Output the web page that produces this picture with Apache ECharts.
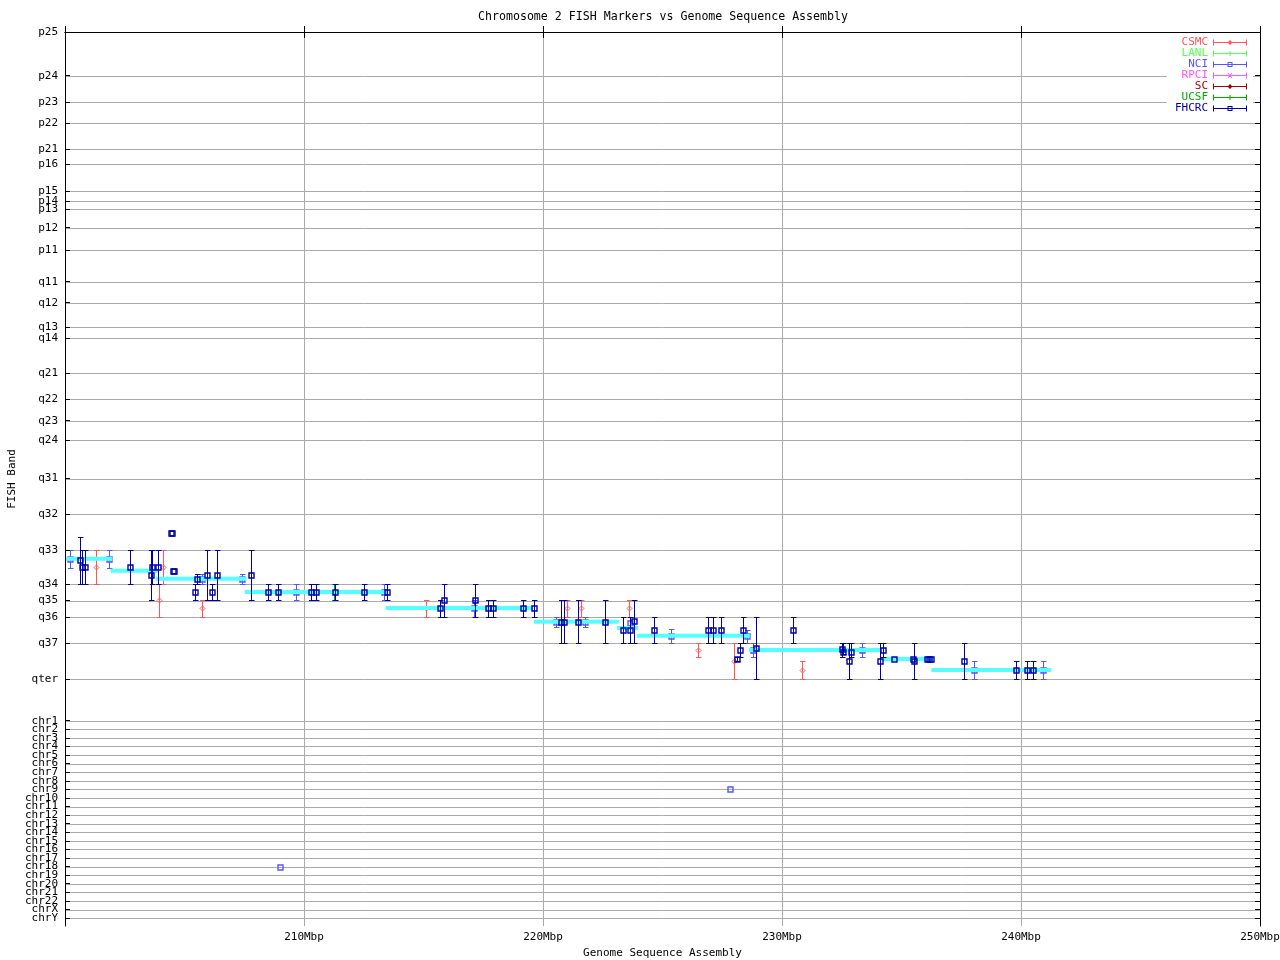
<!DOCTYPE html>
<html><head><meta charset="utf-8">
<script src="https://cdn.jsdelivr.net/npm/echarts@6/dist/echarts.min.js"></script>
<style>html,body{margin:0;padding:0;background:#fff}#c{width:1280px;height:960px}</style>
</head><body><div id="c"></div>
<script>
// FISH band axis: label and its position on the band scale (0 = p25 at top)
const bandLabels = ['p25','p24','p23','p22','p21','p16','p15','p14','p13','p12','p11',
  'q11','q12','q13','q14','q21','q22','q23','q24','q31','q32','q33','q34','q35','q36','q37','qter',
  'chr1','chr2','chr3','chr4','chr5','chr6','chr7','chr8','chr9','chr10','chr11','chr12','chr13',
  'chr14','chr15','chr16','chr17','chr18','chr19','chr20','chr21','chr22','chrX','chrY'];
const bandPos = [0,43.7,70.3,91.3,117,132.3,159,169,177,195.7,218,
  249.7,270.7,295.3,306.3,341.3,367.3,388.7,408,446.5,482,518,552.3,568.5,585.3,611.3,647.3,
  688.7,697.3,705.9,714.4,723.0,731.6,740.2,748.8,757.3,765.9,774.5,783.1,791.7,
  800.2,808.8,817.4,826.0,834.6,843.1,851.7,860.3,868.9,877.5,886.0];
const bandMax = 894;
const xMin = 200, xMax = 250, xStep = 10;
const xGrid = [210, 220, 230, 240];

// [Mbp, band position, band low, band high]
const csmc = [
  [201.31,535.3,518,552.3],[203.93,568.3,552.3,585.3],[204.10,535.3,518,552.3],
  [205.73,576,568.3,585.3],[215.12,576,568.3,585.3],[221.02,576,568.3,585.3],
  [221.59,576,568.3,585.3],[223.60,576,568.3,585.3],[226.49,618.3,611.3,624.7],
  [227.98,629.3,611.3,647.3],[230.84,638.3,629.3,647.3]
];
const lanl = [];
const nci = [
  [200.20,526.7,518,535.7],[201.84,526.7,518,535.7],[205.72,547,542.3,552.3],
  [207.42,547,542.3,552.3],[209.67,560.3,552.3,568.3],[213.33,560.3,552.3,568.3],
  [217.11,576,568.3,585.3],[220.54,590,585.3,595],[221.76,590,585.3,595],
  [223.64,591.3,585.3,595],[225.36,603.7,597.3,611.3],[228.54,603.7,598.3,611.3],
  [228.79,618,611.3,624.7],[233.35,618,611.3,624.7],[238.03,638.3,629.3,647.3],
  [240.92,638.3,629.3,647.3],
  [208.98,834.6,834.6,834.6],[227.81,757.3,757.3,757.3]
];
const rpci = [];
const sc = [];
const ucsf = [[211.24,560.3,552.3,568.3]];
const fhcrc = [
  [200.64,528,504.7,552.3],[200.73,535.3,518,552.3],[200.85,535.3,518,552.3],
  [202.72,535.3,518,552.3],[203.60,543.3,518,568.3],[203.66,535.3,518,552.3],
  [203.91,535.3,518,552.3],[204.42,501.3,501.3,501.3],[204.48,501.3,501.3,501.3],
  [204.52,539.3,539.3,539.3],[204.56,539.3,539.3,539.3],
  [205.44,560.3,552.3,568.3],[205.52,547,542.3,552.3],[205.94,543.3,518,568.3],
  [206.15,560.3,552.3,568.3],[206.36,543.3,518,568.3],[207.78,543.3,518,568.3],
  [208.49,560.3,552.3,568.3],[208.91,560.3,552.3,568.3],[210.29,560.3,552.3,568.3],
  [210.50,560.3,552.3,568.3],[211.30,560.3,552.3,568.3],[212.50,560.3,552.3,568.3],
  [213.47,560.3,552.3,568.3],[215.69,576,568.3,585.3],[215.86,568.3,552.3,585.3],
  [217.14,568.3,552.3,585.3],[217.69,576,568.3,585.3],[217.91,576,568.3,585.3],
  [219.16,576,568.3,585.3],[219.62,576,568.3,585.3],[220.77,589.7,568.3,611.3],
  [220.88,589.7,568.3,611.3],[221.46,589.7,568.3,611.3],[222.59,589.7,568.3,611.3],
  [223.35,598.3,585.3,611.3],[223.66,598.3,585.3,611.3],[223.81,589.3,568.3,611.3],
  [224.64,598.3,585.3,611.3],[226.90,598.3,585.3,611.3],[227.11,598.3,585.3,611.3],
  [227.46,598.3,585.3,611.3],[228.12,627,624.7,629.3],[228.23,618.3,611.3,624.7],
  [228.37,598.3,585.3,611.3],[228.91,616.3,585.3,647.3],[230.46,598.3,585.3,611.3],
  [232.49,617.3,611.3,624.7],[232.55,620,611.3,622],[232.80,629.3,611.3,647.3],
  [232.90,620.3,611.3,624.7],[234.10,629.3,611.3,647.3],[234.23,618.3,611.3,624.7],
  [234.69,627,627,627],[235.48,627,627,627],[235.52,629.3,611.3,647.3],
  [236.08,627,627,627],[236.15,627,627,627],[236.23,627,627,627],
  [237.62,629.3,611.3,647.3],[239.78,638.3,629.3,647.3],[240.24,638.3,629.3,647.3],
  [240.49,638.3,629.3,647.3]
];
// sequence assembly band segments: [start Mbp, end Mbp, band position]
const assembly = [
  [200.0,201.98,526.7],[201.91,203.89,538.7],[203.80,207.59,546.7],[207.52,213.45,560],
  [213.42,219.58,576],[219.62,223.17,589.7],[223.10,223.97,596],[223.93,228.65,603.7],
  [228.62,234.16,618],[234.16,236.32,627],[236.25,241.27,638]
];

const FONT = 'DejaVu Sans Mono';
const colors = {CSMC:'#ff5555', LANL:'#55ff55', NCI:'#5555ff', RPCI:'#ff55ff', SC:'#aa0000', UCSF:'#00aa00', FHCRC:'#0000aa'};
const bar = 'M0 2.5H34V3.5H0Z M0 0H1V6H0Z M33 0H34V6H33Z ';
const icons = {
  CSMC: 'path://' + bar + 'M17 0.5L19.5 3L17 5.5L14.5 3Z',
  LANL: 'path://' + bar + 'M16.5 0.5H17.5V5.5H16.5Z',
  NCI: 'path://' + bar + 'M14.5 0.5H19.5V5.5H14.5Z M15.5 1.5V4.5H18.5V1.5Z',
  RPCI: 'path://' + bar + 'M14.5 0.5L15.5 0.5L19.5 5.5L18.5 5.5Z M18.5 0.5L19.5 0.5L15.5 5.5L14.5 5.5Z',
  SC: 'path://' + bar + 'M17 0.5L19.5 3L17 5.5L14.5 3Z',
  UCSF: 'path://' + bar + 'M16.5 0.5H17.5V5.5H16.5Z',
  FHCRC: 'path://' + bar + 'M14.5 0.5H19.5V5.5H14.5Z M15.5 1.5V4.5H18.5V1.5Z'
};

function errRender(marker) {
  return function (params, api) {
    const x = api.value(0), y = api.value(1), lo = api.value(2), hi = api.value(3);
    const c = api.coord([x, y]);
    const cx = Math.round(c[0]) + 0.5, cy = Math.round(c[1]) + 0.5;
    const yl = Math.round(api.coord([x, lo])[1]) + 0.5;
    const yh = Math.round(api.coord([x, hi])[1]) + 0.5;
    const color = api.visual('color');
    const st = {stroke: color, lineWidth: 1, fill: 'none'};
    const ch = [];
    if (Math.abs(yh - yl) >= 1) {
      ch.push({type:'line', shape:{x1:cx, y1:yl, x2:cx, y2:yh}, style:st});
      ch.push({type:'line', shape:{x1:cx-2.5, y1:yl, x2:cx+3, y2:yl}, style:st});
      ch.push({type:'line', shape:{x1:cx-2.5, y1:yh, x2:cx+3, y2:yh}, style:st});
    }
    if (marker === 'square') {
      ch.push({type:'rect', shape:{x:cx-2.5, y:cy-2.5, width:5, height:5}, style:{stroke: color, lineWidth: 1.4, fill: 'none'}});
    } else if (marker === 'diamond') {
      ch.push({type:'polygon', shape:{points:[[cx,cy-2.5],[cx+2.5,cy],[cx,cy+2.5],[cx-2.5,cy]]}, style:st});
    } else if (marker === 'plus') {
      ch.push({type:'line', shape:{x1:cx-2.5, y1:cy, x2:cx+3, y2:cy}, style:st});
      ch.push({type:'line', shape:{x1:cx, y1:cy-2.5, x2:cx, y2:cy+3}, style:st});
    } else if (marker === 'cross') {
      ch.push({type:'line', shape:{x1:cx-2, y1:cy-2, x2:cx+2, y2:cy+2}, style:st});
      ch.push({type:'line', shape:{x1:cx-2, y1:cy+2, x2:cx+2, y2:cy-2}, style:st});
    }
    return {type:'group', children: ch};
  };
}
function errSeries(name, data, marker) {
  return {name, type:'custom', data, z:2, silent:true,
    itemStyle:{color: colors[name]},
    encode:{x:0, y:[1,2,3]},
    renderItem: errRender(marker)};
}

const chart = echarts.init(document.getElementById('c'), null, {renderer:'canvas'});
const labelOf = {};
bandPos.forEach((p, i) => { labelOf[p.toFixed(1)] = bandLabels[i]; });

chart.setOption({
  animation:false,
  backgroundColor:'#ffffff',
  title:{text:'Chromosome 2 FISH Markers vs Genome Sequence Assembly', left:658, top:6, textAlign:'center',
    textStyle:{fontFamily:FONT, fontSize:11.6, fontWeight:'normal', color:'#000'}},
  grid:{left:65, right:20, top:32, bottom:34, containLabel:false, outerBoundsMode:'none'},
  legend:{orient:'vertical', right:27, top:34, align:'right', itemWidth:34, itemHeight:6, itemGap:0,
    backgroundColor:'#ffffff', padding:[3,6,3,8], selectedMode:false,
    textStyle:{fontFamily:FONT, fontSize:11, lineHeight:11},
    data:['CSMC','LANL','NCI','RPCI','SC','UCSF','FHCRC'].map(n => ({name:n, icon:icons[n], textStyle:{color:colors[n]}}))},
  xAxis:[
    {type:'value', min:xMin, max:xMax, interval:xStep, z:3,
     name:'Genome Sequence Assembly', nameLocation:'middle', nameGap:22,
     nameTextStyle:{fontFamily:FONT, fontSize:11, color:'#000'},
     axisLine:{lineStyle:{color:'#000', width:1}},
     axisTick:{inside:true, length:6, lineStyle:{color:'#000'}},
     axisLabel:{margin:6, fontFamily:FONT, fontSize:11, color:'#000', hideOverlap:false, formatter:v => v === xMin ? '' : v + 'Mbp'},
     splitLine:{show:false}},
    {type:'value', position:'top', min:xMin, max:xMax, interval:xStep, z:3,
     axisLine:{lineStyle:{color:'#000', width:1}},
     axisTick:{inside:true, length:6, lineStyle:{color:'#000'}},
     axisLabel:{show:false}, splitLine:{show:false}}
  ],
  yAxis:[
    {type:'value', inverse:true, min:0, max:bandMax, z:3,
     name:'FISH Band', nameLocation:'middle', nameGap:47, nameMoveOverlap:false,
     nameTextStyle:{fontFamily:FONT, fontSize:11, color:'#000'},
     axisLine:{show:true, lineStyle:{color:'#000', width:1}},
     axisTick:{show:true, inside:true, length:5, customValues:bandPos, lineStyle:{color:'#000'}},
     axisLabel:{margin:7, fontFamily:FONT, fontSize:11, lineHeight:7, color:'#000',
       customValues:bandPos.concat([bandMax]), hideOverlap:false,
       formatter:v => labelOf[Number(v).toFixed(1)] || ''},
     splitLine:{show:false}},
    {type:'value', inverse:true, min:0, max:bandMax, position:'right', z:3,
     axisLine:{show:true, lineStyle:{color:'#000', width:1}},
     axisTick:{show:true, inside:true, length:5, customValues:bandPos, lineStyle:{color:'#000'}},
     axisLabel:{show:false}, splitLine:{show:false}}
  ],
  series:[
    {type:'custom', name:'hgrid', silent:true, z:1, data:bandPos.map(v => [v]), encode:{y:0},
     renderItem:(params, api) => {
       const cs = params.coordSys;
       const y = Math.round(api.coord([xMin, api.value(0)])[1]) + 0.5;
       return {type:'line', shape:{x1:cs.x, y1:y, x2:cs.x + cs.width, y2:y}, style:{stroke:'#aaaaaa', lineWidth:1}};
     }},
    {type:'custom', name:'vgrid', silent:true, z:1, data:xGrid.map(v => [v]), encode:{x:0},
     renderItem:(params, api) => {
       const cs = params.coordSys;
       const x = Math.round(api.coord([api.value(0), 0])[0]) + 0.5;
       return {type:'line', shape:{x1:x, y1:cs.y, x2:x, y2:cs.y + cs.height}, style:{stroke:'#aaaaaa', lineWidth:1}};
     }},
    errSeries('CSMC', csmc, 'diamond'),
    errSeries('LANL', lanl, 'plus'),
    errSeries('NCI', nci, 'square'),
    errSeries('RPCI', rpci, 'cross'),
    errSeries('SC', sc, 'diamond'),
    errSeries('UCSF', ucsf, 'plus'),
    {type:'custom', name:'assembly', silent:true, z:2, data:assembly, encode:{x:[0,1], y:2},
     itemStyle:{color:'#55ffff'},
     renderItem:(params, api) => {
       const a = api.coord([api.value(0), api.value(2)]);
       const b = api.coord([api.value(1), api.value(2)]);
       return {type:'line', shape:{x1:a[0], y1:a[1], x2:b[0], y2:b[1]}, style:{stroke:api.visual('color'), lineWidth:4}};
     }},
    errSeries('FHCRC', fhcrc, 'square')
  ]
});
</script></body></html>
